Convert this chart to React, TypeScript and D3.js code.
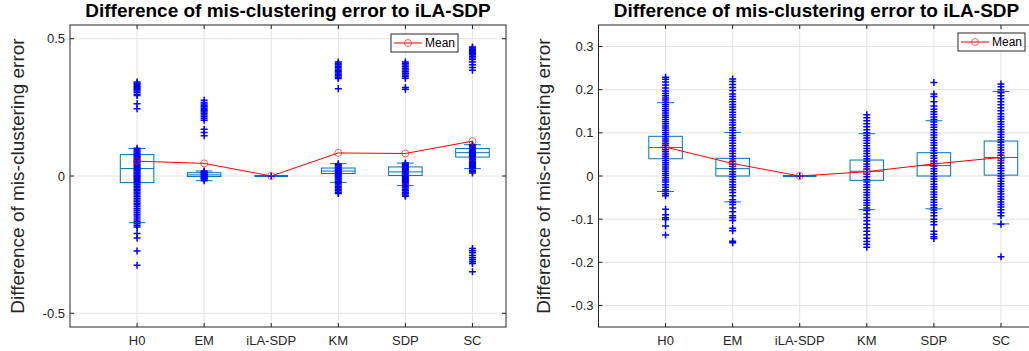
import React, { useEffect, useRef } from 'react';
import * as d3 from 'd3';

const categories = ['H0', 'EM', 'iLA-SDP', 'KM', 'SDP', 'SC'];
const titleText = 'Difference of mis-clustering error to iLA-SDP';
const yLabelText = 'Difference of mis-clustering error';

// left panel: raw points per method
const leftH0 = [0.342, 0.338, 0.334, 0.33, 0.326, 0.322, 0.318, 0.314, 0.31, 0.305, 0.298, 0.293, 0.263, 0.245, 0.101, 0.096, 0.091, 0.087, 0.083, 0.079, 0.075, 0.071, 0.067, 0.063, 0.059, 0.055, 0.051, 0.047, 0.043, 0.039, 0.035, 0.031, 0.027, 0.023, 0.019, 0.015, 0.011, 0.007, 0.003, -0.001, -0.005, -0.009, -0.013, -0.017, -0.021, -0.025, -0.029, -0.033, -0.038, -0.043, -0.048, -0.053, -0.058, -0.063, -0.069, -0.075, -0.081, -0.087, -0.093, -0.099, -0.105, -0.111, -0.118, -0.125, -0.132, -0.139, -0.146, -0.153, -0.16, -0.167, -0.174, -0.18, -0.186, -0.209, -0.226, -0.273, -0.325];
const leftEM = [0.276, 0.268, 0.262, 0.257, 0.252, 0.247, 0.242, 0.238, 0.233, 0.228, 0.222, 0.216, 0.209, 0.203, 0.17, 0.158, 0.147, 0.018, 0.015, 0.012, 0.009, 0.006, 0.003, 0.0, -0.003, -0.006, -0.009, -0.012, -0.017];
const leftILA = [0];
const leftKM = [0.415, 0.41, 0.405, 0.4, 0.395, 0.39, 0.385, 0.38, 0.375, 0.37, 0.365, 0.36, 0.355, 0.318, 0.045, 0.041, 0.037, 0.033, 0.029, 0.025, 0.021, 0.017, 0.013, 0.009, 0.005, 0.001, -0.003, -0.007, -0.011, -0.015, -0.019, -0.023, -0.028, -0.033, -0.038, -0.043, -0.048, -0.054, -0.059, -0.064];
const leftSDP = [0.415, 0.41, 0.404, 0.398, 0.392, 0.386, 0.38, 0.374, 0.368, 0.362, 0.356, 0.322, 0.316, 0.047, 0.043, 0.039, 0.035, 0.031, 0.027, 0.023, 0.019, 0.015, 0.011, 0.007, 0.003, -0.001, -0.005, -0.009, -0.013, -0.017, -0.021, -0.025, -0.029, -0.034, -0.039, -0.044, -0.049, -0.054, -0.059, -0.064, -0.069, -0.074];
const leftSC = [0.47, 0.466, 0.462, 0.458, 0.454, 0.45, 0.446, 0.442, 0.436, 0.43, 0.424, 0.415, 0.405, 0.395, 0.385, 0.114, 0.11, 0.106, 0.102, 0.098, 0.094, 0.09, 0.086, 0.082, 0.078, 0.074, 0.07, 0.066, 0.062, 0.058, 0.054, 0.05, 0.046, 0.042, 0.038, 0.034, 0.03, 0.026, 0.021, 0.016, 0.011, -0.264, -0.272, -0.28, -0.29, -0.298, -0.305, -0.312, -0.319, -0.349];

// left panel box stats: [whiskerLow, q1, median, q3, whiskerHigh]
const leftStats = [
  [-0.17, -0.024, 0.027, 0.078, 0.1],
  [-0.017, -0.002, 0.004, 0.012, 0.018],
  [0, 0, 0, 0, 0],
  [-0.023, 0.009, 0.018, 0.029, 0.045],
  [-0.035, 0.002, 0.015, 0.033, 0.047],
  [0.027, 0.069, 0.085, 0.1, 0.114],
];
const leftMeans = [0.054, 0.046, 0, 0.084, 0.082, 0.127];
const leftTicks = [-0.5, 0, 0.5];

// right panel
const rightH0 = [0.229, 0.224, 0.218, 0.211, 0.204, 0.197, 0.191, 0.186, 0.181, 0.176, 0.171, 0.166, 0.161, 0.156, 0.151, 0.146, 0.141, 0.136, 0.131, 0.126, 0.121, 0.116, 0.111, 0.106, 0.101, 0.096, 0.091, 0.086, 0.081, 0.076, 0.071, 0.066, 0.061, 0.056, 0.051, 0.046, 0.041, 0.036, 0.031, 0.026, 0.021, 0.016, 0.011, 0.006, 0.001, -0.004, -0.009, -0.014, -0.02, -0.026, -0.032, -0.036, -0.041, -0.046, -0.077, -0.09, -0.097, -0.101, -0.116, -0.137];
const rightEM = [0.225, 0.219, 0.212, 0.205, 0.198, 0.19, 0.184, 0.178, 0.172, 0.166, 0.16, 0.154, 0.148, 0.142, 0.136, 0.13, 0.124, 0.118, 0.112, 0.106, 0.1, 0.094, 0.088, 0.082, 0.076, 0.07, 0.064, 0.058, 0.052, 0.046, 0.04, 0.034, 0.028, 0.022, 0.016, 0.01, 0.004, -0.002, -0.008, -0.014, -0.02, -0.026, -0.032, -0.038, -0.046, -0.055, -0.061, -0.066, -0.074, -0.083, -0.092, -0.097, -0.103, -0.121, -0.127, -0.151, -0.155];
const rightILA = [0];
const rightKM = [0.142, 0.135, 0.128, 0.121, 0.114, 0.107, 0.1, 0.094, 0.088, 0.082, 0.076, 0.07, 0.064, 0.058, 0.052, 0.046, 0.04, 0.034, 0.028, 0.022, 0.016, 0.01, 0.004, -0.002, -0.008, -0.014, -0.02, -0.026, -0.032, -0.038, -0.044, -0.05, -0.056, -0.062, -0.068, -0.074, -0.08, -0.088, -0.096, -0.104, -0.112, -0.12, -0.128, -0.136, -0.144, -0.152, -0.158, -0.165];
const rightSDP = [0.217, 0.19, 0.184, 0.172, 0.162, 0.155, 0.149, 0.143, 0.137, 0.131, 0.125, 0.119, 0.113, 0.107, 0.101, 0.095, 0.089, 0.083, 0.077, 0.071, 0.065, 0.059, 0.053, 0.047, 0.041, 0.035, 0.029, 0.023, 0.017, 0.011, 0.005, -0.001, -0.007, -0.013, -0.019, -0.025, -0.031, -0.037, -0.043, -0.049, -0.055, -0.061, -0.067, -0.073, -0.079, -0.085, -0.092, -0.1, -0.106, -0.113, -0.128, -0.135, -0.141, -0.145];
const rightSC = [0.213, 0.207, 0.2, 0.193, 0.186, 0.179, 0.172, 0.165, 0.158, 0.151, 0.144, 0.138, 0.132, 0.126, 0.12, 0.114, 0.108, 0.102, 0.096, 0.09, 0.084, 0.078, 0.072, 0.066, 0.06, 0.054, 0.048, 0.042, 0.036, 0.03, 0.024, 0.018, 0.012, 0.006, 0.0, -0.006, -0.012, -0.018, -0.024, -0.03, -0.036, -0.042, -0.048, -0.054, -0.06, -0.066, -0.072, -0.078, -0.085, -0.092, -0.112, -0.187];

const rightStats = [
  [-0.036, 0.04, 0.066, 0.092, 0.17],
  [-0.06, 0.0, 0.017, 0.041, 0.101],
  [0, 0, 0, 0, 0],
  [-0.078, -0.01, 0.011, 0.037, 0.098],
  [-0.076, 0.0, 0.024, 0.054, 0.128],
  [-0.111, 0.002, 0.043, 0.081, 0.196],
];
const rightMeans = [0.067, 0.029, 0, 0.01, 0.028, 0.043];
const rightTicks = [-0.3, -0.2, -0.1, 0, 0.1, 0.2, 0.3];

const FONT = '"Liberation Sans", Arial, Helvetica, sans-serif';
const AXIS_COLOR = '#262626';
const GRID_COLOR = '#e2e2e2';
const BOX_COLOR = '#0072BD';

type PanelOpts = {
  left: number;
  yDomain: [number, number];
  ticks: number[];
  points: number[][];
  stats: number[][];
  means: number[];
  yLabelX: number;
  legendX: number;
  legendY: number;
};

function drawPanel(svg: d3.Selection<SVGSVGElement, unknown, null, undefined>, o: PanelOpts) {
  const top = 25;
  const bottom = 327;
  const width = 436;
  const right = o.left + width;

  const x = d3.scaleLinear().domain([0, 6.5]).range([o.left, right]);
  const y = d3.scaleLinear().domain(o.yDomain).range([bottom, top]);
  const boxW = x(0.25) - x(0);
  const capW = x(0.125) - x(0);

  const g = svg.append('g');

  g.append('rect')
    .attr('x', o.left).attr('y', top)
    .attr('width', width).attr('height', bottom - top)
    .attr('fill', '#fff');

  // grid
  o.ticks.forEach(t => {
    g.append('line')
      .attr('x1', o.left).attr('x2', right)
      .attr('y1', y(t)).attr('y2', y(t))
      .attr('stroke', GRID_COLOR).attr('stroke-width', 1);
  });
  categories.forEach((_, i) => {
    g.append('line')
      .attr('x1', x(i + 1)).attr('x2', x(i + 1))
      .attr('y1', top).attr('y2', bottom)
      .attr('stroke', GRID_COLOR).attr('stroke-width', 1);
  });

  // boxes
  o.stats.forEach((s, i) => {
    const cx = x(i + 1);
    const [wlo, q1, med, q3, whi] = s;
    const flat = y(q1) - y(q3) < 1;
    const bg = g.append('g').attr('stroke', BOX_COLOR).attr('fill', 'none').attr('stroke-width', 1);
    if (flat) {
      bg.append('line')
        .attr('x1', cx - boxW).attr('x2', cx + boxW)
        .attr('y1', y(med)).attr('y2', y(med))
        .attr('stroke-width', 2.2);
      return;
    }
    bg.append('line').attr('x1', cx).attr('x2', cx).attr('y1', y(q3)).attr('y2', y(whi)).attr('stroke-dasharray', '3,2');
    bg.append('line').attr('x1', cx).attr('x2', cx).attr('y1', y(q1)).attr('y2', y(wlo)).attr('stroke-dasharray', '3,2');
    bg.append('line').attr('x1', cx - capW).attr('x2', cx + capW).attr('y1', y(whi)).attr('y2', y(whi));
    bg.append('line').attr('x1', cx - capW).attr('x2', cx + capW).attr('y1', y(wlo)).attr('y2', y(wlo));
    bg.append('rect')
      .attr('x', cx - boxW).attr('y', y(q3))
      .attr('width', boxW * 2).attr('height', y(q1) - y(q3));
    bg.append('line').attr('x1', cx - boxW).attr('x2', cx + boxW).attr('y1', y(med)).attr('y2', y(med));
  });

  // all points as '+'
  o.points.forEach((pts, i) => {
    g.append('g').selectAll('path')
      .data(pts)
      .enter()
      .append('path')
      .attr('transform', d => `translate(${x(i + 1)},${y(d)})`)
      .attr('d', 'M-3.5,0H3.5M0,-3.5V3.5')
      .attr('stroke', '#0000ff')
      .attr('stroke-width', 1.5)
      .attr('fill', 'none');
  });

  // mean line
  const line = d3.line<number>().x((_, i) => x(i + 1)).y(d => y(d));
  g.append('path')
    .datum(o.means)
    .attr('d', line)
    .attr('fill', 'none')
    .attr('stroke', '#ff0000')
    .attr('stroke-width', 1);
  g.append('g').selectAll('circle')
    .data(o.means)
    .enter()
    .append('circle')
    .attr('cx', (_, i) => x(i + 1))
    .attr('cy', d => y(d))
    .attr('r', 3.5)
    .attr('fill', 'none')
    .attr('stroke', '#ff0000')
    .attr('stroke-opacity', 0.6)
    .attr('stroke-width', 1);

  // axes box + ticks
  g.append('rect')
    .attr('x', o.left).attr('y', top)
    .attr('width', width).attr('height', bottom - top)
    .attr('fill', 'none').attr('stroke', AXIS_COLOR).attr('stroke-width', 1);

  o.ticks.forEach(t => {
    g.append('line').attr('x1', o.left).attr('x2', o.left + 4).attr('y1', y(t)).attr('y2', y(t)).attr('stroke', AXIS_COLOR);
    g.append('line').attr('x1', right - 4).attr('x2', right).attr('y1', y(t)).attr('y2', y(t)).attr('stroke', AXIS_COLOR);
    g.append('text')
      .attr('x', o.left - 5)
      .attr('y', y(t))
      .attr('dy', '0.35em')
      .attr('text-anchor', 'end')
      .attr('font-family', FONT)
      .attr('font-size', '13px')
      .attr('fill', AXIS_COLOR)
      .text(String(t));
  });

  categories.forEach((c, i) => {
    g.append('line').attr('x1', x(i + 1)).attr('x2', x(i + 1)).attr('y1', bottom).attr('y2', bottom - 4).attr('stroke', AXIS_COLOR);
    g.append('line').attr('x1', x(i + 1)).attr('x2', x(i + 1)).attr('y1', top).attr('y2', top + 4).attr('stroke', AXIS_COLOR);
    g.append('text')
      .attr('x', x(i + 1))
      .attr('y', 345)
      .attr('text-anchor', 'middle')
      .attr('font-family', FONT)
      .attr('font-size', '13px')
      .attr('fill', AXIS_COLOR)
      .text(c);
  });

  // title
  g.append('text')
    .attr('x', (o.left + right) / 2)
    .attr('y', 17)
    .attr('text-anchor', 'middle')
    .attr('font-family', FONT)
    .attr('font-size', '19px')
    .attr('font-weight', 'bold')
    .attr('fill', '#000')
    .text(titleText);

  // y label
  g.append('text')
    .attr('transform', `translate(${o.yLabelX},${(top + bottom) / 2}) rotate(-90)`)
    .attr('text-anchor', 'middle')
    .attr('dy', '0.35em')
    .attr('font-family', FONT)
    .attr('font-size', '19px')
    .attr('fill', AXIS_COLOR)
    .text(yLabelText);

  // legend
  const lg = g.append('g').attr('transform', `translate(${o.legendX},${o.legendY})`);
  lg.append('rect')
    .attr('width', 67).attr('height', 18)
    .attr('fill', '#fff').attr('stroke', AXIS_COLOR).attr('stroke-width', 1);
  lg.append('line').attr('x1', 3).attr('x2', 31).attr('y1', 9).attr('y2', 9).attr('stroke', '#ff0000');
  lg.append('circle').attr('cx', 17).attr('cy', 9).attr('r', 3.5)
    .attr('fill', 'none').attr('stroke', '#ff0000').attr('stroke-opacity', 0.6);
  lg.append('text')
    .attr('x', 34).attr('y', 9).attr('dy', '0.35em')
    .attr('font-family', FONT).attr('font-size', '12px').attr('fill', '#000')
    .text('Mean');
}

export default function App() {
  const ref = useRef<SVGSVGElement>(null);

  useEffect(() => {
    if (!ref.current) return;
    const svg = d3.select(ref.current);
    svg.selectAll('*').remove();

    drawPanel(svg, {
      left: 70,
      yDomain: [-0.55, 0.55],
      ticks: leftTicks,
      points: [leftH0, leftEM, leftILA, leftKM, leftSDP, leftSC],
      stats: leftStats,
      means: leftMeans,
      yLabelX: 17,
      legendX: 391,
      legendY: 34,
    });

    drawPanel(svg, {
      left: 598.5,
      yDomain: [-0.35, 0.35],
      ticks: rightTicks,
      points: [rightH0, rightEM, rightILA, rightKM, rightSDP, rightSC],
      stats: rightStats,
      means: rightMeans,
      yLabelX: 543,
      legendX: 958,
      legendY: 33,
    });
  }, []);

  return (
    <svg
      ref={ref}
      width={1029}
      height={351}
      style={{ position: 'absolute', left: 0, top: 0, background: '#fff' }}
    />
  );
}
